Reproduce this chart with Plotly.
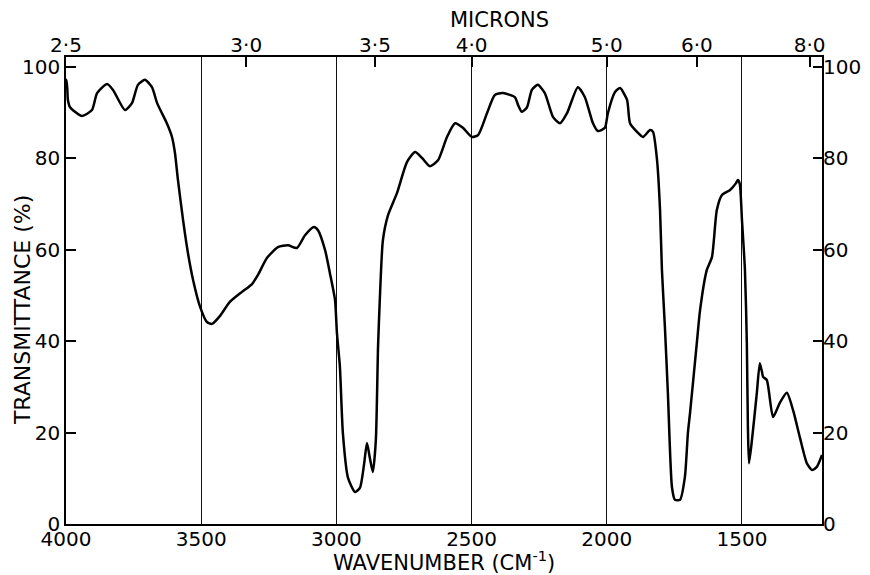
import plotly.graph_objects as go

# Spectrum (wavenumber in cm^-1, transmittance in %)
wavenumber = [4030, 4000, 3993, 3985, 3941, 3904, 3885, 3848, 3826, 3782, 3756, 3734,
              3708, 3682, 3663, 3627, 3608, 3597, 3586, 3567, 3549, 3530, 3504, 3479,
              3460, 3431, 3394, 3349, 3312, 3290, 3257, 3216, 3179, 3146, 3116, 3083,
              3068, 3042, 3024, 3005, 2998, 2987, 2976, 2957, 2931, 2913, 2898, 2887,
              2876, 2865, 2854, 2846, 2839, 2828, 2809, 2776, 2739, 2709, 2683, 2654,
              2624, 2591, 2561, 2532, 2499, 2476, 2443, 2414, 2384, 2340, 2328, 2314,
              2295, 2277, 2255, 2229, 2199, 2173, 2147, 2107, 2081, 2051, 2033, 2007,
              1996, 1970, 1951, 1925, 1914, 1888, 1866, 1840, 1829, 1814, 1803, 1796,
              1785, 1774, 1759, 1748, 1729, 1711, 1700, 1692, 1667, 1655, 1630, 1611,
              1593, 1574, 1544, 1522, 1515, 1508, 1500, 1489, 1482, 1478, 1474, 1463,
              1445, 1434, 1426, 1422, 1408, 1385, 1360, 1334, 1311, 1286, 1260, 1241,
              1223, 1204]
transmittance = [97.8, 97.2, 92.8, 91.2, 89.3, 90.6, 94.3, 96.3, 95.0, 90.6, 92.1, 96.1,
                 97.2, 95.6, 92.1, 87.7, 84.7, 81.2, 75.3, 66.5, 59.3, 53.4, 47.5, 44.2,
                 43.8, 45.5, 48.6, 50.8, 52.5, 54.5, 58.2, 60.6, 61.0, 60.4, 63.2, 65.0,
                 64.3, 60.0, 54.9, 49.0, 41.8, 34.4, 19.9, 10.1, 7.0, 7.9, 12.9, 17.7,
                 14.4, 11.4, 18.4, 38.7, 49.7, 62.1, 67.6, 72.4, 79.2, 81.4, 80.1, 78.3,
                 79.6, 84.7, 87.7, 86.7, 84.7, 85.1, 89.9, 93.9, 94.3, 93.4, 91.7, 90.2,
                 91.2, 95.0, 96.1, 94.3, 89.1, 87.7, 89.9, 95.6, 93.4, 87.7, 86.0, 86.7,
                 89.9, 94.5, 95.4, 92.8, 87.7, 85.8, 84.7, 86.2, 85.8, 79.6, 68.7, 55.6,
                 43.1, 28.7, 8.1, 5.3, 5.3, 10.3, 19.9, 24.3, 39.6, 46.8, 55.6, 58.4,
                 68.7, 72.0, 73.1, 74.6, 75.3, 74.4, 66.5, 55.6, 39.6, 21.2, 13.3, 18.4,
                 28.7, 35.2, 33.3, 32.2, 31.5, 23.4, 26.5, 28.7, 24.9, 19.0, 13.3, 11.8,
                 12.5, 15.1]

wn_ticks = [4000, 3500, 3000, 2500, 2000, 1500]
wn_labels = ["4000", "3500", "3000", "2500", "2000", "1500"]
micron_ticks = [2.5, 3.0, 3.5, 4.0, 5.0, 6.0, 8.0]
micron_labels = ["2·5", "3·0", "3·5", "4·0", "5·0", "6·0", "8·0"]
t_ticks = [0, 20, 40, 60, 80, 100]
t_labels = ["0", "20", "40", "60", "80", "100"]

x_range = [4000, 1204]
y_range = [0, 102.2]

FONT = "DejaVu Sans"
fsize = 20
tsize = 21

fig = go.Figure()
fig.add_trace(go.Scatter(
    x=wavenumber, y=transmittance, mode="lines",
    line=dict(color="black", width=2.5, shape="spline", smoothing=0.6),
    showlegend=False, hoverinfo="skip"))
# transparent twin on the secondary (micron / right) axes
fig.add_trace(go.Scatter(
    x=wavenumber, y=transmittance, mode="lines", xaxis="x2", yaxis="y2",
    line=dict(color="rgba(0,0,0,0)", width=0),
    showlegend=False, hoverinfo="skip"))

# the page body adds an 8 px offset, so the figure is 8 px smaller on each axis
fig.update_layout(
    width=862, height=567,
    margin=dict(l=58, r=48, t=49, b=51, autoexpand=False),
    paper_bgcolor="white", plot_bgcolor="white",
    font=dict(family=FONT, size=fsize, color="black"),
    xaxis=dict(range=x_range, tickvals=wn_ticks, ticktext=wn_labels,
               showgrid=True, gridcolor="#111", gridwidth=1.3,
               showline=True, linecolor="black", linewidth=1.5, mirror=True,
               ticks="", zeroline=False, tickfont=dict(size=fsize),
               ticklabelstandoff=-4),
    xaxis2=dict(range=x_range, overlaying="x", side="top",
                tickvals=[1e4 / m for m in micron_ticks], ticktext=micron_labels,
                ticks="inside", ticklen=10, tickwidth=1.5, tickcolor="black",
                showgrid=False, showline=False, zeroline=False,
                tickfont=dict(size=fsize)),
    yaxis=dict(range=y_range, tickvals=t_ticks, ticktext=t_labels,
               ticks="inside", ticklen=10, tickwidth=1.5, tickcolor="black",
               showgrid=False, showline=True, linecolor="black", linewidth=1.5,
               mirror=True, zeroline=False, tickfont=dict(size=fsize)),
    yaxis2=dict(range=y_range, overlaying="y", side="right",
                tickvals=t_ticks, ticktext=t_labels,
                ticks="inside", ticklen=9, tickwidth=1.5, tickcolor="black",
                showgrid=False, showline=False, zeroline=False,
                tickfont=dict(size=fsize)),
    annotations=[
        dict(text="WAVENUMBER (CM<sup>-1</sup>)", xref="paper", yref="paper",
             x=0.5, y=0, yshift=-37, xanchor="center", yanchor="middle",
             showarrow=False, font=dict(size=tsize)),
        dict(text="TRANSMITTANCE (%)", xref="paper", yref="paper",
             x=0, y=0.458, xshift=-44, xanchor="center", yanchor="middle",
             textangle=-90, showarrow=False, font=dict(size=22)),
        dict(text="MICRONS", xref="paper", yref="paper",
             x=0.574, y=1, yshift=37, xanchor="center", yanchor="middle",
             showarrow=False, font=dict(size=21)),
    ],
)

fig.write_html("out.html")
